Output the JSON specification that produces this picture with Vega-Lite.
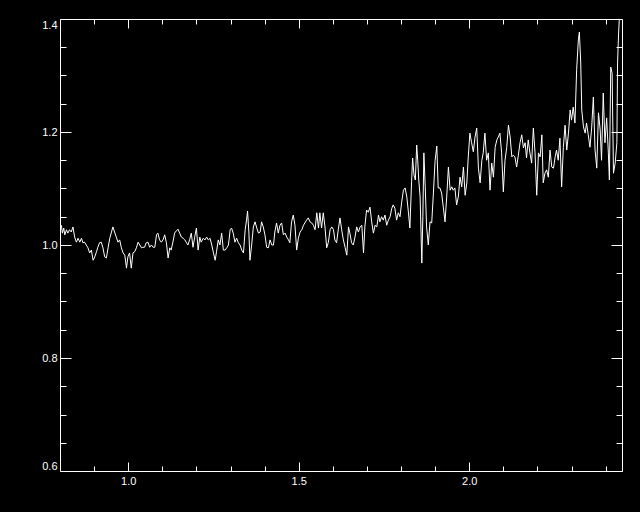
{
"$schema": "https://vega.github.io/schema/vega-lite/v6.json",
"width": 562, "height": 452,
"autosize": {"type": "none"},
"padding": {"left": 60, "top": 19, "right": 18, "bottom": 41},
"background": "black",
"config": {"view": {"stroke": null}, "axis": {"grid": false, "domainColor": "white", "tickColor": "white", "labelColor": "white", "labelFont": "Liberation Sans", "labelFontSize": 11, "title": null, "tickWidth": 1, "domainWidth": 1}},
"data": {"values": [
{"w":0.804,"r":1.035},{"w":0.807,"r":1.021},{"w":0.811,"r":1.030},{"w":0.814,"r":1.018},{"w":0.819,"r":1.027},{"w":0.823,"r":1.021},{"w":0.828,"r":1.027},{"w":0.833,"r":1.023},{"w":0.838,"r":1.032},{"w":0.843,"r":1.014},{"w":0.848,"r":1.005},{"w":0.853,"r":1.012},{"w":0.858,"r":1.005},{"w":0.863,"r":1.012},{"w":0.867,"r":1.004},{"w":0.872,"r":1.005},{"w":0.877,"r":1.000},{"w":0.882,"r":0.995},{"w":0.887,"r":0.986},{"w":0.892,"r":0.991},{"w":0.897,"r":0.973},{"w":0.902,"r":0.979},{"w":0.907,"r":0.988},{"w":0.911,"r":0.996},{"w":0.916,"r":1.004},{"w":0.921,"r":1.005},{"w":0.926,"r":0.995},{"w":0.931,"r":0.979},{"w":0.936,"r":0.977},{"w":0.941,"r":0.995},{"w":0.946,"r":1.012},{"w":0.951,"r":1.023},{"w":0.955,"r":1.032},{"w":0.960,"r":1.023},{"w":0.965,"r":1.014},{"w":0.970,"r":1.005},{"w":0.975,"r":1.009},{"w":0.980,"r":0.995},{"w":0.985,"r":0.986},{"w":0.990,"r":0.982},{"w":0.995,"r":0.959},{"w":0.999,"r":0.979},{"w":1.004,"r":0.986},{"w":1.009,"r":0.959},{"w":1.014,"r":0.986},{"w":1.019,"r":0.988},{"w":1.024,"r":0.995},{"w":1.029,"r":1.005},{"w":1.034,"r":1.000},{"w":1.039,"r":0.995},{"w":1.043,"r":0.996},{"w":1.048,"r":0.996},{"w":1.053,"r":1.004},{"w":1.058,"r":1.005},{"w":1.063,"r":0.996},{"w":1.068,"r":1.000},{"w":1.073,"r":0.996},{"w":1.078,"r":0.996},{"w":1.083,"r":1.018},{"w":1.087,"r":1.021},{"w":1.092,"r":1.009},{"w":1.097,"r":1.005},{"w":1.102,"r":1.009},{"w":1.107,"r":1.018},{"w":1.112,"r":1.004},{"w":1.117,"r":0.977},{"w":1.122,"r":0.995},{"w":1.126,"r":0.991},{"w":1.131,"r":1.005},{"w":1.136,"r":1.021},{"w":1.141,"r":1.025},{"w":1.146,"r":1.028},{"w":1.151,"r":1.021},{"w":1.156,"r":1.014},{"w":1.161,"r":1.012},{"w":1.166,"r":1.009},{"w":1.170,"r":1.005},{"w":1.175,"r":1.000},{"w":1.180,"r":1.009},{"w":1.185,"r":1.021},{"w":1.190,"r":0.996},{"w":1.195,"r":1.014},{"w":1.200,"r":1.030},{"w":1.205,"r":0.991},{"w":1.210,"r":1.014},{"w":1.214,"r":1.005},
{"w":1.220,"r":1.012},{"w":1.225,"r":1.009},{"w":1.230,"r":1.014},{"w":1.235,"r":1.009},{"w":1.240,"r":1.012},{"w":1.245,"r":1.000},{"w":1.250,"r":0.986},{"w":1.255,"r":0.973},{"w":1.259,"r":0.988},{"w":1.264,"r":1.009},{"w":1.269,"r":1.000},{"w":1.274,"r":1.021},{"w":1.279,"r":0.991},{"w":1.284,"r":0.991},{"w":1.289,"r":0.995},{"w":1.294,"r":1.000},{"w":1.299,"r":1.027},{"w":1.303,"r":1.030},{"w":1.308,"r":1.021},{"w":1.313,"r":1.005},{"w":1.318,"r":1.012},{"w":1.323,"r":1.004},{"w":1.328,"r":1.000},{"w":1.333,"r":0.991},{"w":1.338,"r":0.986},{"w":1.343,"r":1.027},{"w":1.347,"r":1.044},{"w":1.350,"r":1.060},{"w":1.354,"r":1.021},{"w":1.357,"r":0.973},{"w":1.362,"r":1.000},{"w":1.367,"r":1.032},{"w":1.372,"r":1.041},{"w":1.377,"r":1.030},{"w":1.382,"r":1.021},{"w":1.387,"r":1.023},{"w":1.391,"r":1.041},{"w":1.396,"r":1.032},{"w":1.401,"r":1.018},{"w":1.406,"r":0.996},{"w":1.411,"r":0.995},{"w":1.416,"r":1.009},{"w":1.421,"r":1.000},{"w":1.426,"r":1.000},{"w":1.430,"r":1.023},{"w":1.435,"r":1.039},{"w":1.440,"r":1.021},{"w":1.445,"r":1.035},{"w":1.450,"r":1.039},{"w":1.455,"r":1.018},{"w":1.460,"r":1.021},{"w":1.465,"r":1.014},{"w":1.470,"r":1.009},{"w":1.474,"r":1.004},{"w":1.479,"r":1.041},{"w":1.484,"r":1.053},{"w":1.489,"r":1.035},{"w":1.494,"r":0.991},{"w":1.499,"r":1.012},{"w":1.504,"r":1.023},{"w":1.509,"r":1.027},{"w":1.514,"r":1.035},{"w":1.518,"r":1.039},{"w":1.523,"r":1.044},{"w":1.528,"r":1.048},{"w":1.533,"r":1.041},{"w":1.538,"r":1.039},{"w":1.543,"r":1.035},{"w":1.548,"r":1.027},{"w":1.553,"r":1.057},{"w":1.558,"r":1.030},{"w":1.562,"r":1.057},{"w":1.567,"r":1.030},{"w":1.572,"r":1.057},{"w":1.577,"r":1.032},{"w":1.582,"r":0.995},{"w":1.587,"r":1.005},{"w":1.592,"r":1.027},{"w":1.597,"r":1.032},{"w":1.602,"r":1.027},{"w":1.606,"r":1.009},{"w":1.611,"r":1.004},{"w":1.616,"r":1.027},{"w":1.621,"r":1.048},{"w":1.626,"r":1.027},{"w":1.631,"r":1.009},
{"w":1.636,"r":0.996},{"w":1.641,"r":0.982},{"w":1.646,"r":1.032},{"w":1.650,"r":1.021},{"w":1.655,"r":1.004},{"w":1.660,"r":1.000},{"w":1.665,"r":1.014},{"w":1.670,"r":1.032},{"w":1.675,"r":1.023},{"w":1.680,"r":1.032},{"w":1.685,"r":1.035},{"w":1.690,"r":0.986},{"w":1.694,"r":1.032},{"w":1.699,"r":1.062},{"w":1.704,"r":1.058},{"w":1.709,"r":1.067},{"w":1.714,"r":1.041},{"w":1.719,"r":1.021},{"w":1.724,"r":1.035},{"w":1.729,"r":1.032},{"w":1.734,"r":1.053},{"w":1.738,"r":1.041},{"w":1.743,"r":1.050},{"w":1.748,"r":1.044},{"w":1.753,"r":1.053},{"w":1.758,"r":1.035},{"w":1.763,"r":1.044},{"w":1.768,"r":1.050},{"w":1.773,"r":1.065},{"w":1.777,"r":1.071},{"w":1.782,"r":1.065},{"w":1.787,"r":1.044},{"w":1.792,"r":1.057},{"w":1.797,"r":1.050},{"w":1.802,"r":1.076},{"w":1.807,"r":1.097},{"w":1.812,"r":1.101},{"w":1.817,"r":1.085},{"w":1.821,"r":1.062},{"w":1.826,"r":1.030},{"w":1.831,"r":1.112},{"w":1.834,"r":1.154},{"w":1.838,"r":1.124},{"w":1.842,"r":1.115},{"w":1.846,"r":1.177},{"w":1.849,"r":1.150},{"w":1.852,"r":1.115},{"w":1.856,"r":1.085},{"w":1.861,"r":0.968},{"w":1.864,"r":1.050},{"w":1.867,"r":1.163},{"w":1.871,"r":1.103},{"w":1.875,"r":1.032},{"w":1.880,"r":1.000},{"w":1.885,"r":1.041},{"w":1.890,"r":1.039},{"w":1.895,"r":1.092},{"w":1.900,"r":1.150},{"w":1.905,"r":1.175},{"w":1.909,"r":1.101},{"w":1.914,"r":1.101},{"w":1.919,"r":1.092},{"w":1.924,"r":1.067},{"w":1.929,"r":1.041},{"w":1.934,"r":1.085},{"w":1.939,"r":1.138},{"w":1.944,"r":1.097},{"w":1.949,"r":1.103},{"w":1.953,"r":1.097},{"w":1.958,"r":1.101},{"w":1.963,"r":1.071},{"w":1.968,"r":1.085},{"w":1.973,"r":1.120},{"w":1.978,"r":1.103},{"w":1.983,"r":1.138},{"w":1.988,"r":1.088},{"w":1.993,"r":1.110},{"w":1.997,"r":1.154},{"w":2.002,"r":1.198},{"w":2.007,"r":1.181},{"w":2.012,"r":1.165},{"w":2.017,"r":1.191},{"w":2.022,"r":1.207},{"w":2.027,"r":1.136},{"w":2.032,"r":1.110},{"w":2.037,"r":1.150},{"w":2.041,"r":1.163},{"w":2.046,"r":1.198},
{"w":2.051,"r":1.150},{"w":2.056,"r":1.163},{"w":2.061,"r":1.097},{"w":2.066,"r":1.145},{"w":2.071,"r":1.120},{"w":2.076,"r":1.173},{"w":2.081,"r":1.186},{"w":2.085,"r":1.191},{"w":2.090,"r":1.198},{"w":2.095,"r":1.163},{"w":2.100,"r":1.094},{"w":2.105,"r":1.150},{"w":2.110,"r":1.173},{"w":2.115,"r":1.212},{"w":2.120,"r":1.191},{"w":2.125,"r":1.156},{"w":2.129,"r":1.159},{"w":2.134,"r":1.156},{"w":2.139,"r":1.138},{"w":2.144,"r":1.159},{"w":2.149,"r":1.181},{"w":2.154,"r":1.195},{"w":2.159,"r":1.172},{"w":2.164,"r":1.181},{"w":2.168,"r":1.154},{"w":2.173,"r":1.186},{"w":2.178,"r":1.163},{"w":2.183,"r":1.145},{"w":2.188,"r":1.207},{"w":2.193,"r":1.163},{"w":2.198,"r":1.088},{"w":2.203,"r":1.163},{"w":2.208,"r":1.156},{"w":2.213,"r":1.195},{"w":2.217,"r":1.110},{"w":2.222,"r":1.127},{"w":2.227,"r":1.133},{"w":2.232,"r":1.120},{"w":2.237,"r":1.168},{"w":2.242,"r":1.138},{"w":2.247,"r":1.136},{"w":2.252,"r":1.156},{"w":2.256,"r":1.168},{"w":2.261,"r":1.150},{"w":2.266,"r":1.189},{"w":2.271,"r":1.103},{"w":2.276,"r":1.173},{"w":2.281,"r":1.212},{"w":2.286,"r":1.168},{"w":2.291,"r":1.198},{"w":2.296,"r":1.239},{"w":2.300,"r":1.221},{"w":2.305,"r":1.244},{"w":2.310,"r":1.216},{"w":2.315,"r":1.310},{"w":2.320,"r":1.363},{"w":2.323,"r":1.377},{"w":2.327,"r":1.322},{"w":2.330,"r":1.239},{"w":2.335,"r":1.209},{"w":2.340,"r":1.198},{"w":2.344,"r":1.216},{"w":2.349,"r":1.195},{"w":2.354,"r":1.173},{"w":2.359,"r":1.207},{"w":2.364,"r":1.262},{"w":2.369,"r":1.168},{"w":2.374,"r":1.136},{"w":2.379,"r":1.234},{"w":2.384,"r":1.204},{"w":2.388,"r":1.150},{"w":2.393,"r":1.269},{"w":2.398,"r":1.181},{"w":2.403,"r":1.225},{"w":2.408,"r":1.163},{"w":2.411,"r":1.115},{"w":2.415,"r":1.315},{"w":2.419,"r":1.304},{"w":2.423,"r":1.127},{"w":2.428,"r":1.145},{"w":2.433,"r":1.181},{"w":2.435,"r":1.322},{"w":2.438,"r":1.375},{"w":2.440,"r":1.398},{"w":2.442,"r":1.430}
]},
"resolve": {"axis": {"x": "independent", "y": "independent"}},
"layer": [
{"mark": {"type": "line", "color": "white", "strokeWidth": 1, "clip": true},
 "encoding": {
  "x": {"field": "w", "type": "quantitative", "scale": {"domain": [0.8, 2.448], "nice": false, "zero": false},
        "axis": {"orient": "bottom", "values": [1.0, 1.5, 2.0], "ticks": false, "labelPadding": 4, "format": ".1f", "domain": true}},
  "y": {"field": "r", "type": "quantitative", "scale": {"domain": [0.6, 1.4], "nice": false, "zero": false},
        "axis": {"orient": "left", "values": [0.6, 0.8, 1.0, 1.2, 1.4], "ticks": false, "labelPadding": 3, "labelFlush": true, "format": ".1f", "domain": true}}}},
{"mark": {"type": "line", "opacity": 0},
 "encoding": {
  "x": {"field": "w", "type": "quantitative", "axis": {"orient": "bottom", "values": [1.0, 1.5, 2.0], "tickSize": -9, "labels": false, "domain": false}},
  "y": {"field": "r", "type": "quantitative", "axis": {"orient": "left", "values": [0.6, 0.8, 1.0, 1.2, 1.4], "tickSize": -11, "labels": false, "domain": false}}}},
{"mark": {"type": "line", "opacity": 0},
 "encoding": {
  "x": {"field": "w", "type": "quantitative", "axis": {"orient": "bottom", "values": [0.9, 1.1, 1.2, 1.3, 1.4, 1.6, 1.7, 1.8, 1.9, 2.1, 2.2, 2.3, 2.4], "tickSize": -5, "labels": false, "domain": false}},
  "y": {"field": "r", "type": "quantitative", "axis": {"orient": "left", "values": [0.65, 0.7, 0.75, 0.85, 0.9, 0.95, 1.05, 1.1, 1.15, 1.25, 1.3, 1.35], "tickSize": -6, "labels": false, "domain": false}}}},
{"mark": {"type": "line", "opacity": 0},
 "encoding": {
  "x": {"field": "w", "type": "quantitative", "axis": {"orient": "top", "values": [1.0, 1.5, 2.0], "tickSize": -9, "labels": false, "domain": true}},
  "y": {"field": "r", "type": "quantitative", "axis": {"orient": "right", "values": [0.6, 0.8, 1.0, 1.2, 1.4], "tickSize": -11, "labels": false, "domain": true}}}},
{"mark": {"type": "line", "opacity": 0},
 "encoding": {
  "x": {"field": "w", "type": "quantitative", "axis": {"orient": "top", "values": [0.9, 1.1, 1.2, 1.3, 1.4, 1.6, 1.7, 1.8, 1.9, 2.1, 2.2, 2.3, 2.4], "tickSize": -5, "labels": false, "domain": false}},
  "y": {"field": "r", "type": "quantitative", "axis": {"orient": "right", "values": [0.65, 0.7, 0.75, 0.85, 0.9, 0.95, 1.05, 1.1, 1.15, 1.25, 1.3, 1.35], "tickSize": -6, "labels": false, "domain": false}}}}
]
}
